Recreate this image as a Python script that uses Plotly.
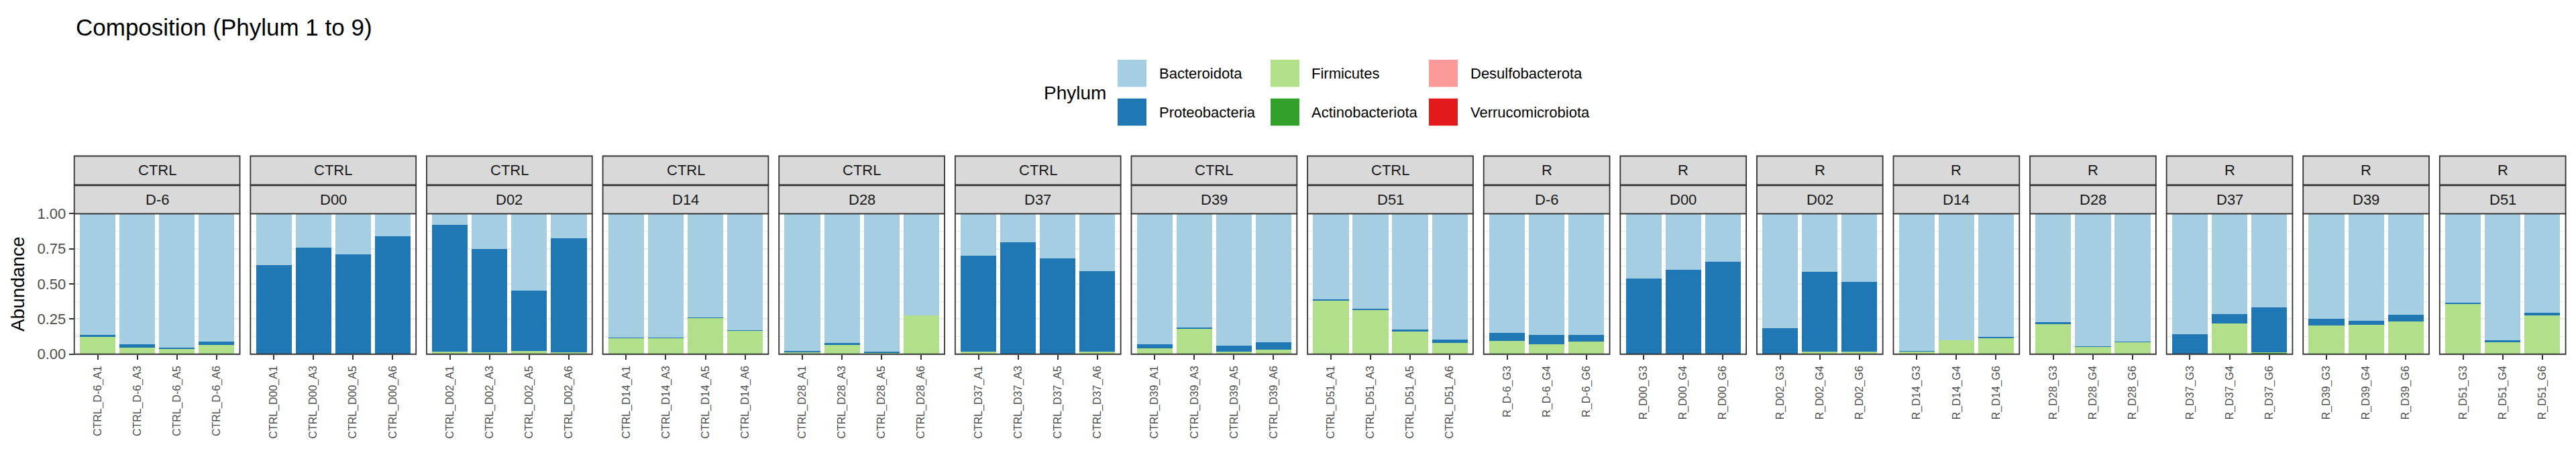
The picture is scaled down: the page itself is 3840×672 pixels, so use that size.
import plotly.graph_objects as go

W, H = 3840, 672

# ---------------- data ----------------
groups = ["CTRL", "CTRL", "CTRL", "CTRL", "CTRL", "CTRL", "CTRL", "CTRL",
          "R", "R", "R", "R", "R", "R", "R", "R"]
days = ["D-6", "D00", "D02", "D14", "D28", "D37", "D39", "D51",
        "D-6", "D00", "D02", "D14", "D28", "D37", "D39", "D51"]

samples = [
    "CTRL_D-6_A1", "CTRL_D-6_A3", "CTRL_D-6_A5", "CTRL_D-6_A6",
    "CTRL_D00_A1", "CTRL_D00_A3", "CTRL_D00_A5", "CTRL_D00_A6",
    "CTRL_D02_A1", "CTRL_D02_A3", "CTRL_D02_A5", "CTRL_D02_A6",
    "CTRL_D14_A1", "CTRL_D14_A3", "CTRL_D14_A5", "CTRL_D14_A6",
    "CTRL_D28_A1", "CTRL_D28_A3", "CTRL_D28_A5", "CTRL_D28_A6",
    "CTRL_D37_A1", "CTRL_D37_A3", "CTRL_D37_A5", "CTRL_D37_A6",
    "CTRL_D39_A1", "CTRL_D39_A3", "CTRL_D39_A5", "CTRL_D39_A6",
    "CTRL_D51_A1", "CTRL_D51_A3", "CTRL_D51_A5", "CTRL_D51_A6",
    "R_D-6_G3", "R_D-6_G4", "R_D-6_G6",
    "R_D00_G3", "R_D00_G4", "R_D00_G6",
    "R_D02_G3", "R_D02_G4", "R_D02_G6",
    "R_D14_G3", "R_D14_G4", "R_D14_G6",
    "R_D28_G3", "R_D28_G4", "R_D28_G6",
    "R_D37_G3", "R_D37_G4", "R_D37_G6",
    "R_D39_G3", "R_D39_G4", "R_D39_G6",
    "R_D51_G3", "R_D51_G4", "R_D51_G6",
]

phyla = ["Bacteroidota", "Proteobacteria", "Firmicutes",
         "Actinobacteriota", "Desulfobacterota", "Verrucomicrobiota"]
colors = ["#A6CEE3", "#1F78B4", "#B2DF8A", "#33A02C", "#FB9A99", "#E31A1C"]

bacteroidota = [
    0.862, 0.928, 0.952, 0.909,
    0.368, 0.240, 0.289, 0.160,
    0.079, 0.252, 0.546, 0.173,
    0.880, 0.880, 0.736, 0.829,
    0.978, 0.922, 0.984, 0.722,
    0.299, 0.201, 0.317, 0.411,
    0.928, 0.812, 0.941, 0.914,
    0.610, 0.677, 0.826, 0.896,
    0.849, 0.863, 0.863,
    0.462, 0.397, 0.341,
    0.816, 0.415, 0.485,
    0.975, 0.900, 0.877,
    0.774, 0.942, 0.910,
    0.858, 0.714, 0.667,
    0.747, 0.760, 0.719,
    0.635, 0.900, 0.707,
]
proteobacteria = [
    0.015, 0.026, 0.012, 0.024,
    0.630, 0.758, 0.709, 0.834,
    0.905, 0.737, 0.429, 0.816,
    0.005, 0.005, 0.009, 0.005,
    0.011, 0.010, 0.005, 0.004,
    0.685, 0.793, 0.677, 0.573,
    0.028, 0.008, 0.043, 0.052,
    0.011, 0.009, 0.014, 0.023,
    0.056, 0.065, 0.047,
    0.537, 0.602, 0.654,
    0.182, 0.565, 0.499,
    0.005, 0.002, 0.009,
    0.013, 0.005, 0.003,
    0.137, 0.068, 0.321,
    0.051, 0.029, 0.046,
    0.009, 0.013, 0.018,
]
firmicutes = [
    0.123, 0.046, 0.036, 0.067,
    0.002, 0.002, 0.002, 0.006,
    0.016, 0.005, 0.025, 0.011,
    0.115, 0.115, 0.255, 0.166,
    0.011, 0.068, 0.011, 0.274,
    0.016, 0.006, 0.006, 0.016,
    0.044, 0.180, 0.016, 0.034,
    0.379, 0.314, 0.160, 0.081,
    0.095, 0.072, 0.090,
    0.001, 0.001, 0.005,
    0.002, 0.015, 0.016,
    0.020, 0.098, 0.114,
    0.213, 0.053, 0.087,
    0.005, 0.218, 0.004,
    0.202, 0.211, 0.235,
    0.356, 0.087, 0.275,
]
actinobacteriota = [
    0, 0, 0, 0,
    0, 0, 0, 0,
    0, 0, 0, 0,
    0, 0, 0, 0,
    0, 0, 0, 0,
    0, 0, 0, 0,
    0, 0, 0, 0,
    0, 0, 0, 0,
    0, 0, 0,
    0, 0, 0,
    0, 0.005, 0,
    0, 0, 0,
    0, 0, 0,
    0, 0, 0.008,
    0, 0, 0,
    0, 0, 0,
]
desulfobacterota = [
    0, 0, 0, 0,
    0, 0, 0, 0,
    0, 0, 0, 0,
    0, 0, 0, 0,
    0, 0, 0, 0,
    0, 0, 0, 0,
    0, 0, 0, 0,
    0, 0, 0, 0,
    0, 0, 0,
    0, 0, 0,
    0, 0, 0,
    0, 0, 0,
    0, 0, 0,
    0, 0, 0,
    0, 0, 0,
    0, 0, 0,
]
verrucomicrobiota = [
    0, 0, 0, 0,
    0, 0, 0, 0,
    0, 0.006, 0, 0,
    0, 0, 0, 0,
    0, 0, 0, 0,
    0, 0, 0, 0,
    0, 0, 0, 0,
    0, 0, 0, 0,
    0, 0, 0,
    0, 0, 0,
    0, 0, 0,
    0, 0, 0,
    0, 0, 0,
    0, 0, 0,
    0, 0, 0,
    0, 0, 0,
]

y_ticks = [0, 0.25, 0.5, 0.75, 1.0]
y_tick_labels = ["0.00", "0.25", "0.50", "0.75", "1.00"]

series = {
    "Bacteroidota": bacteroidota,
    "Proteobacteria": proteobacteria,
    "Firmicutes": firmicutes,
    "Actinobacteriota": actinobacteriota,
    "Desulfobacterota": desulfobacterota,
    "Verrucomicrobiota": verrucomicrobiota,
}

# ---------------- layout geometry (pixels) ----------------
FONT = "Liberation Sans, Arial, Helvetica, sans-serif"
x_start = 110.7
unit = 59.05
pad = 0.09
gap = 15.8
plot_top, plot_bot = 318.3, 535.7
strip1 = (229.0, 273.5)
strip2 = (274.5, 318.3)
BORDER = "#333333"


def px(x):
    return x / W


def py(y):
    return 1 - y / H


# split samples into panels by group+day prefix
panel_samples = []
for g, d in zip(groups, days):
    prefix = f"{g}_{d}_"
    panel_samples.append([s for s in samples if s.startswith(prefix)])

fig = go.Figure()
shapes = []
annotations = []
layout_axes = {}

left = x_start
for k, names in enumerate(panel_samples):
    n = len(names)
    width = (n + 2 * pad) * unit
    right = left + width
    xa = "x" if k == 0 else f"x{k + 1}"
    ya = "y" if k == 0 else f"y{k + 1}"
    idx = [samples.index(s) for s in names]

    # stack: bottom first
    for ph, col in reversed(list(zip(phyla, colors))):
        vals = [series[ph][i] for i in idx]
        fig.add_trace(go.Bar(
            x=names, y=vals, name=ph, marker_color=col,
            marker_line_width=0, width=0.9, xaxis=xa, yaxis=ya,
            showlegend=False,
            hovertemplate="%{x}<br>" + ph + ": %{y:.3f}<extra></extra>",
        ))

    layout_axes["xaxis" if k == 0 else f"xaxis{k + 1}"] = dict(
        domain=[px(left), px(right)], anchor=ya, type="category",
        categoryorder="array", categoryarray=names,
        range=[-0.5 - pad, n - 0.5 + pad],
        showgrid=False, zeroline=False, showline=False,
        ticks="outside", ticklen=7, tickwidth=2, tickcolor=BORDER,
        ticklabelstandoff=3,
        tickangle=-90, tickfont=dict(size=16, color="#4D4D4D", family=FONT),
        fixedrange=True,
    )
    layout_axes["yaxis" if k == 0 else f"yaxis{k + 1}"] = dict(
        domain=[py(plot_bot), py(plot_top)], anchor=xa, range=[0, 1],
        tickvals=y_ticks, ticktext=y_tick_labels,
        showticklabels=(k == 0),
        ticks="outside" if k == 0 else "", ticklen=7, tickwidth=2,
        tickcolor=BORDER,
        tickfont=dict(size=22, color="#4D4D4D", family=FONT),
        showgrid=True, gridcolor="#EBEBEB", gridwidth=2,
        minor=dict(tickvals=[0.125, 0.375, 0.625, 0.875], showgrid=True,
                   gridcolor="#EBEBEB", gridwidth=1, ticks=""),
        zeroline=False, showline=False, fixedrange=True,
    )

    # panel border
    shapes.append(dict(type="rect", xref="paper", yref="paper",
                       x0=px(left), x1=px(right), y0=py(plot_bot), y1=py(plot_top),
                       line=dict(color=BORDER, width=1.8), fillcolor="rgba(0,0,0,0)",
                       layer="above"))
    # strips
    for (t, b), label in ((strip1, groups[k]), (strip2, days[k])):
        shapes.append(dict(type="rect", xref="paper", yref="paper",
                           x0=px(left), x1=px(right), y0=py(b), y1=py(t),
                           line=dict(color=BORDER, width=1.8), fillcolor="#D9D9D9",
                           layer="above"))
        annotations.append(dict(xref="paper", yref="paper",
                                x=px((left + right) / 2), y=py((t + b) / 2),
                                text=label, showarrow=False,
                                xanchor="center", yanchor="middle",
                                font=dict(size=22, color="#1A1A1A", family=FONT)))
    left = right + gap

# title
annotations.append(dict(xref="paper", yref="paper", x=px(111), y=py(29.5),
                        text="Composition (Phylum 1 to 9)", showarrow=False,
                        xanchor="left", yanchor="middle",
                        font=dict(size=35, color="black", family=FONT)))
# y-axis title
annotations.append(dict(xref="paper", yref="paper", x=px(26), y=py((plot_top + plot_bot) / 2),
                        text="Abundance", showarrow=False, textangle=-90,
                        xanchor="center", yanchor="middle",
                        font=dict(size=28, color="black", family=FONT)))

# legend (drawn as keys + text)
annotations.append(dict(xref="paper", yref="paper", x=px(1554), y=py(131.5),
                        text="Phylum", showarrow=False,
                        xanchor="left", yanchor="middle",
                        font=dict(size=28, color="black", family=FONT)))
key_x = [1666, 1894, 2130]
text_x = [1726, 1953, 2190]
row_top = [80, 140]
key_w, key_h = 43, 42
for i, (ph, col) in enumerate(zip(phyla, colors)):
    c, r = i // 2, i % 2
    shapes.append(dict(type="rect", xref="paper", yref="paper",
                       x0=px(key_x[c]), x1=px(key_x[c] + key_w),
                       y0=py(row_top[r] + key_h), y1=py(row_top[r]),
                       line=dict(width=0), fillcolor=col))
    annotations.append(dict(xref="paper", yref="paper", x=px(text_x[c]),
                            y=py(row_top[r] + key_h / 2), text=ph, showarrow=False,
                            xanchor="left", yanchor="middle",
                            font=dict(size=22, color="black", family=FONT)))

fig.update_layout(
    width=W, height=H, autosize=False,
    margin=dict(l=0, r=0, t=0, b=0),
    paper_bgcolor="white", plot_bgcolor="white",
    barmode="stack", bargap=0.1,
    showlegend=False,
    shapes=shapes, annotations=annotations,
    font=dict(family=FONT),
    **layout_axes,
)

fig.write_html("out.html", config={"displayModeBar": False},
               post_script="document.body.style.margin='0';")
